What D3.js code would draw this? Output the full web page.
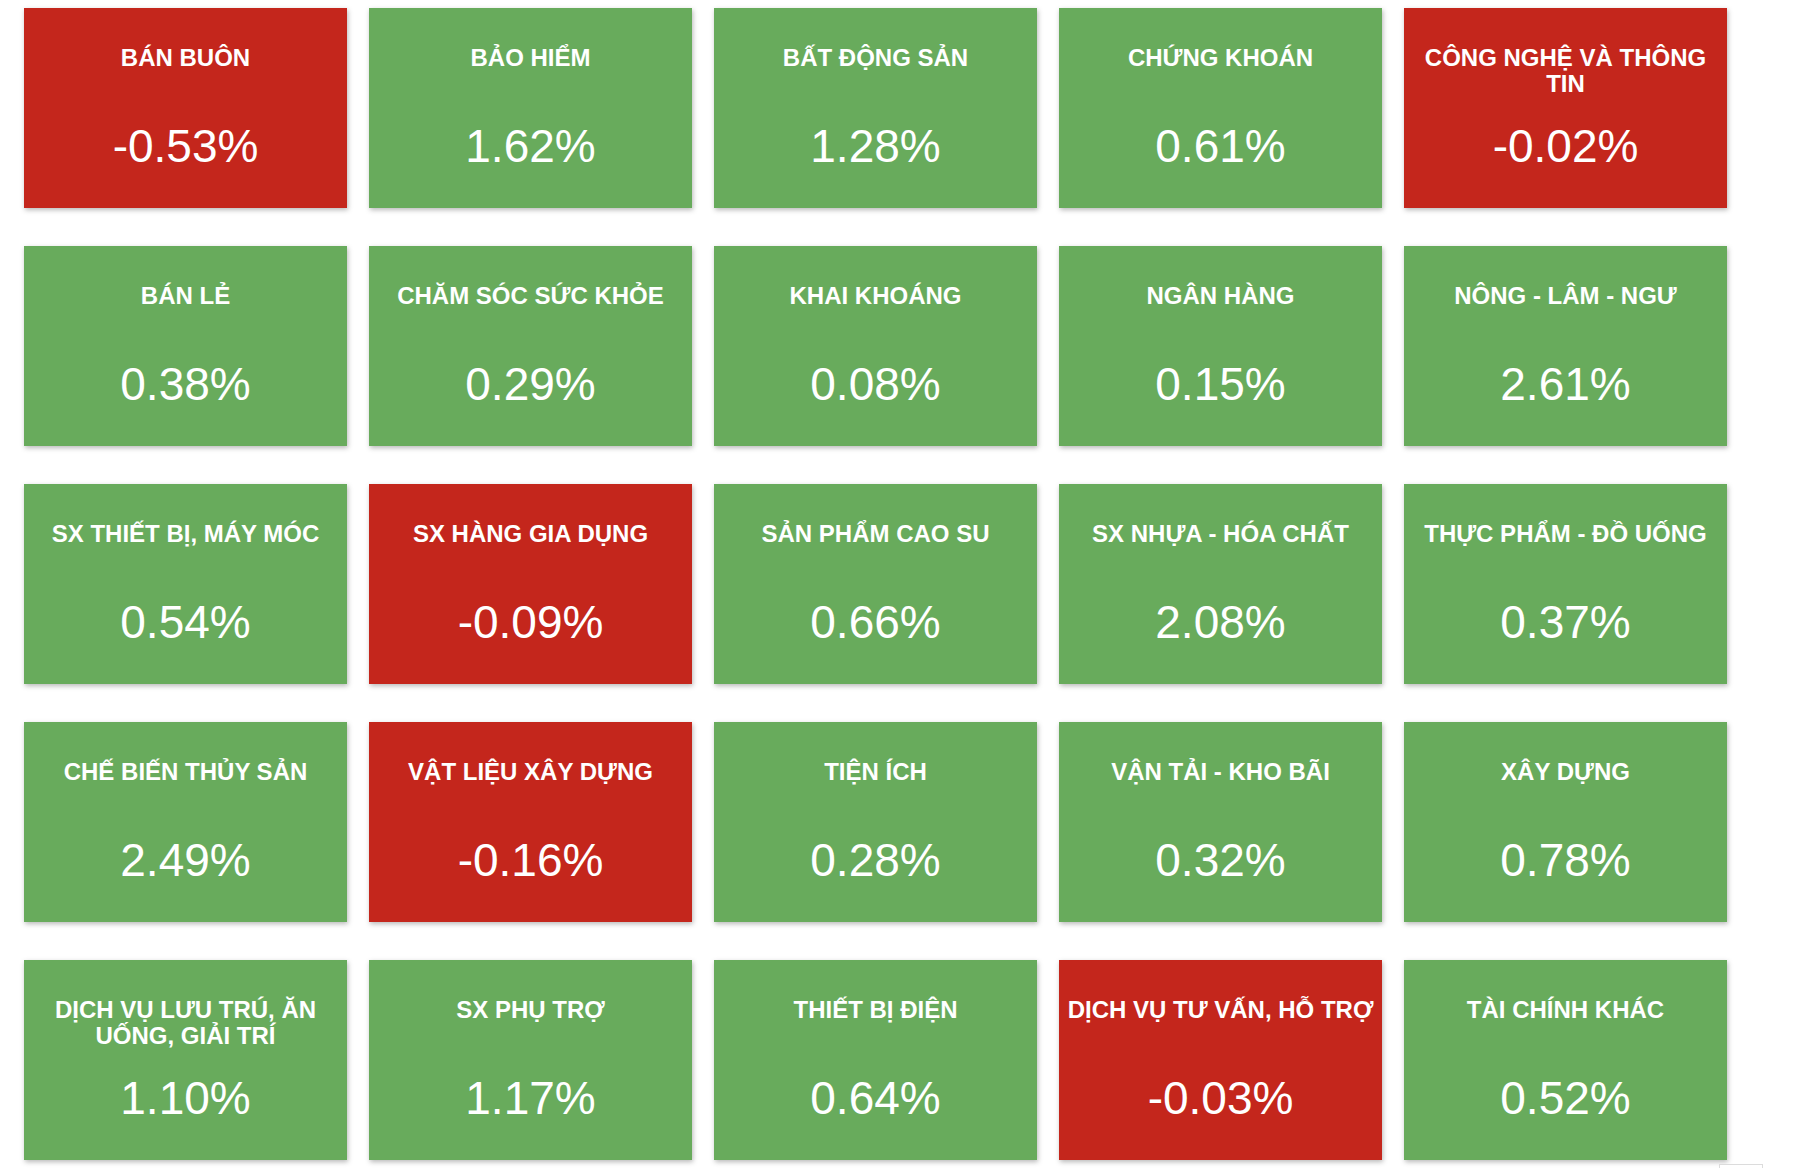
<!DOCTYPE html>
<html>
<head>
<meta charset="utf-8">
<script src="https://cdn.jsdelivr.net/npm/d3@7"></script>
<style>
  html, body { margin: 0; padding: 0; background: #ffffff; }
  svg { display: block; }
</style>
</head>
<body>
<svg id="chart" width="1800" height="1168"></svg>
<script>
const categories = [
  "BÁN BUÔN", "BẢO HIỂM", "BẤT ĐỘNG SẢN", "CHỨNG KHOÁN", "CÔNG NGHỆ VÀ THÔNG TIN",
  "BÁN LẺ", "CHĂM SÓC SỨC KHỎE", "KHAI KHOÁNG", "NGÂN HÀNG", "NÔNG - LÂM - NGƯ",
  "SX THIẾT BỊ, MÁY MÓC", "SX HÀNG GIA DỤNG", "SẢN PHẨM CAO SU", "SX NHỰA - HÓA CHẤT", "THỰC PHẨM - ĐỒ UỐNG",
  "CHẾ BIẾN THỦY SẢN", "VẬT LIỆU XÂY DỰNG", "TIỆN ÍCH", "VẬN TẢI - KHO BÃI", "XÂY DỰNG",
  "DỊCH VỤ LƯU TRÚ, ĂN UỐNG, GIẢI TRÍ", "SX PHỤ TRỢ", "THIẾT BỊ ĐIỆN", "DỊCH VỤ TƯ VẤN, HỖ TRỢ", "TÀI CHÍNH KHÁC"
];
const values = [
  -0.53, 1.62, 1.28, 0.61, -0.02,
  0.38, 0.29, 0.08, 0.15, 2.61,
  0.54, -0.09, 0.66, 2.08, 0.37,
  2.49, -0.16, 0.28, 0.32, 0.78,
  1.10, 1.17, 0.64, -0.03, 0.52
];
const nCols = 5;
const nRows = 5;
const upColor = "#67ab5b";
const downColor = "#c4281c";

const svg = d3.select("#chart");
const defs = svg.append("defs");
const f = defs.append("filter").attr("id", "shadow")
  .attr("x", "-10%").attr("y", "-10%").attr("width", "120%").attr("height", "130%");
f.append("feDropShadow").attr("dx", 1).attr("dy", 2).attr("stdDeviation", 2.5)
  .attr("flood-color", "#000").attr("flood-opacity", 0.28);

const x = d3.scaleBand().domain(d3.range(nCols)).range([24, 1727]).paddingInner(22 / 345).paddingOuter(0);
const y = d3.scaleBand().domain(d3.range(nRows)).range([8, 1160]).paddingInner(38 / 238).paddingOuter(0);
const color = v => (v < 0 ? downColor : upColor);
const locale = d3.formatLocale({ decimal: ".", thousands: ",", grouping: [3], currency: ["", ""], minus: "-" });
const fmt = locale.format(".2f");

const data = categories.map((c, i) => ({ name: c, value: values[i], col: i % nCols, row: Math.floor(i / nCols) }));

const tiles = svg.selectAll("g.tile").data(data).join("g")
  .attr("class", "tile")
  .attr("transform", d => `translate(${x(d.col)},${y(d.row)})`);

tiles.append("rect")
  .attr("width", x.bandwidth())
  .attr("height", y.bandwidth())
  .attr("fill", d => color(d.value))
  .attr("filter", "url(#shadow)");

const fontFam = "'Liberation Sans', Arial, Helvetica, sans-serif";
const maxW = x.bandwidth() - 10;

tiles.each(function (d) {
  const g = d3.select(this);
  const t = g.append("text")
    .attr("x", x.bandwidth() / 2)
    .attr("text-anchor", "middle")
    .attr("fill", "#ffffff")
    .attr("font-family", fontFam)
    .attr("font-weight", "bold")
    .attr("font-size", 24);
  const words = d.name.split(" ");
  let lines = [];
  let cur = [];
  const probe = t.append("tspan");
  words.forEach(w => {
    const test = cur.concat([w]).join(" ");
    probe.text(test);
    if (probe.node().getComputedTextLength() > maxW && cur.length) {
      lines.push(cur.join(" "));
      cur = [w];
    } else {
      cur.push(w);
    }
  });
  if (cur.length) lines.push(cur.join(" "));
  probe.remove();
  lines.forEach((ln, k) => {
    t.append("tspan")
      .attr("x", x.bandwidth() / 2)
      .attr("y", 58 + k * 25.5)
      .text(ln);
  });

  g.append("text")
    .attr("x", x.bandwidth() / 2)
    .attr("y", 154)
    .attr("text-anchor", "middle")
    .attr("fill", "#ffffff")
    .attr("font-family", fontFam)
    .attr("font-size", 46)
    .text(fmt(d.value) + "%");
});

svg.append("rect")
  .attr("x", 1719.5).attr("y", 1164.5)
  .attr("width", 43).attr("height", 20)
  .attr("fill", "#fff").attr("stroke", "#dcdcdc");
</script>
</body>
</html>
